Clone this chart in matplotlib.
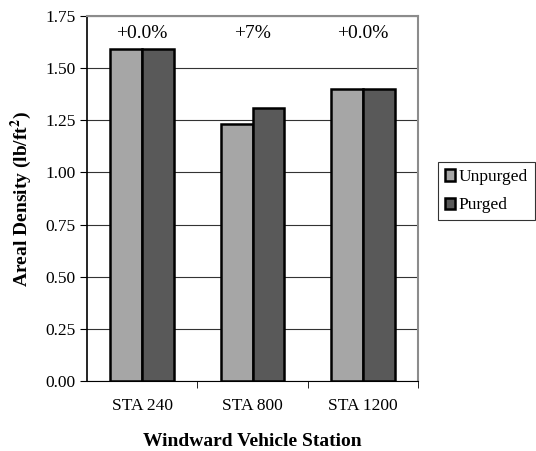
import matplotlib
matplotlib.use("Agg")
import matplotlib.pyplot as plt
import numpy as np

plt.rcParams['font.family'] = ['Liberation Serif', 'DejaVu Serif']
plt.rcParams['mathtext.fontset'] = 'stix'

stations = ["STA 240", "STA 800", "STA 1200"]
unpurged = [1.59, 1.23, 1.40]
purged = [1.59, 1.31, 1.40]
changes = ["+0.0%", "+7%", "+0.0%"]

fig = plt.figure(figsize=(5.36, 4.51), dpi=100)
ax = fig.add_axes([87/536, 1-381/451, (418-87)/536, (381-16)/451])

x = np.arange(len(stations))
w = 0.29
ax.bar(x - w/2, unpurged, w, color="#a6a6a6", edgecolor="black", linewidth=1.8, label="Unpurged", zorder=3)
ax.bar(x + w/2, purged, w, color="#595959", edgecolor="black", linewidth=1.8, label="Purged", zorder=3)

for i, t in enumerate(changes):
    ax.text(x[i], 1.665, t, ha="center", va="center", fontsize=14)

ax.set_xlim(-0.5, 2.5)
ax.set_ylim(0, 1.75)
yt = np.arange(0, 1.76, 0.25)
ax.set_yticks(yt)
ax.set_yticklabels(["%.2f" % v for v in yt], fontsize=12.5)
ax.yaxis.grid(True, color="#333333", linewidth=0.8, zorder=0)
ax.set_xticks(x)
ax.set_xticklabels(stations, fontsize=12.5)
ax.tick_params(axis="x", length=0, pad=12)
ax.set_xticks([0.5, 1.5, 2.5], minor=True)
ax.tick_params(axis="x", which="minor", length=5, direction="out", color="black")
ax.tick_params(axis="y", length=5, direction="out", pad=3)

for s in ["top", "right"]:
    ax.spines[s].set_color("#8c8c8c")
    ax.spines[s].set_linewidth(1.5)
ax.spines["left"].set_color("black")
ax.spines["bottom"].set_color("black")
ax.spines["left"].set_linewidth(1.2)

ax.set_ylabel("Areal Density (lb/ft$^\\mathbf{2}$)", fontsize=14, fontweight="bold", labelpad=8)
ax.set_xlabel("Windward Vehicle Station", fontsize=14, fontweight="bold", labelpad=14)

leg = ax.legend(loc="center left", bbox_to_anchor=(1.06, 0.52), fontsize=12.5, frameon=True,
                fancybox=False, edgecolor="black", handlelength=0.6, handleheight=0.6,
                handletextpad=0.2, borderpad=0.4, labelspacing=0.7, borderaxespad=0)
leg.get_frame().set_linewidth(0.8)

fig.savefig("out.png", dpi=100)
